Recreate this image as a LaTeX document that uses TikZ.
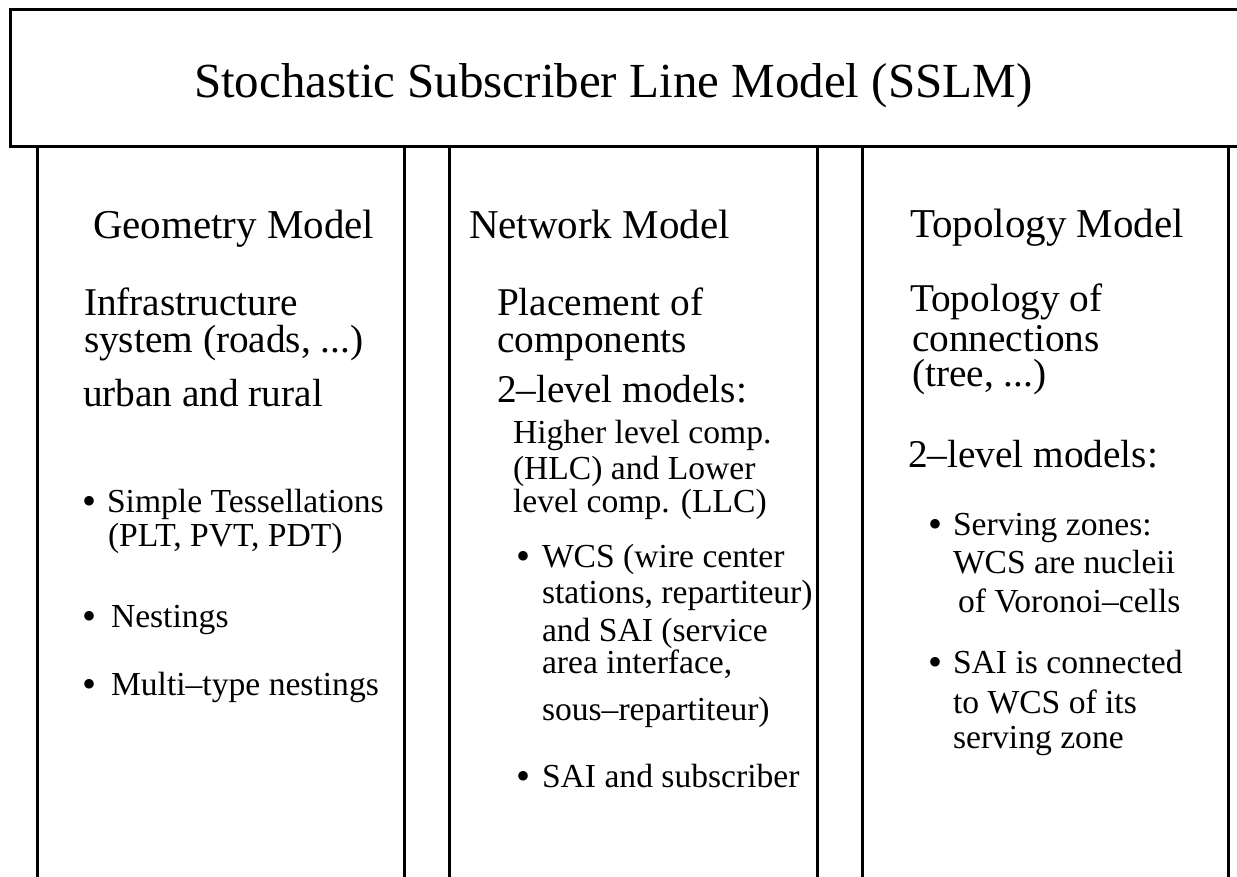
\documentclass[tikz,border=0pt]{standalone}
\usepackage{fontspec}
\setmainfont{Liberation Serif}
\begin{document}
\begin{tikzpicture}[x=1pt,y=-1pt,
  frame/.style={line width=3pt, line join=miter},
  txt/.style={anchor=base west, inner sep=0pt, outer sep=0pt},
  ttl/.style={txt, font=\fontsize{49}{49}\selectfont},
  hdr/.style={txt, font=\fontsize{41}{41}\selectfont},
  body/.style={txt, font=\fontsize{39.3}{39.3}\selectfont},
  small/.style={txt, font=\fontsize{33.6}{33.6}\selectfont},
  bul/.style={txt, font=\fontsize{40}{40}\selectfont, yshift=-2pt}]
\useasboundingbox (0,0) rectangle (1237,876);
% frames
\draw[frame] (10,9) rectangle (1260,146);
\draw[frame] (37,900) -- (37,146) (404,146) -- (404,900);
\draw[frame] (449,900) -- (449,146) (817,146) -- (817,900);
\draw[frame] (862,900) -- (862,146) (1228,146) -- (1228,900);
% title
\node[ttl] (title) at (194,97) {Stochastic Subscriber Line Model (SSLM)};
% geometry column
\node[hdr] (g0) at (93,238) {Geometry Model};
\node[body] (g1) at (84,315) {Infrastructure};
\node[body] (g2) at (84,352) {system (roads, ...)};
\node[body] (g3) at (83,406) {urban and rural};
\node[bul] (gb1) at (82,512) {\textbullet};
\node[small] (g4) at (107,512) {Simple Tessellations};
\node[small] (g5) at (108,546) {(PLT, PVT, PDT)};
\node[bul] (gb2) at (82,627) {\textbullet};
\node[small] (g6) at (111,627) {Nestings};
\node[bul] (gb3) at (82,695) {\textbullet};
\node[small] (g7) at (111,695) {Multi--type nestings};
% network column
\node[hdr] (n0) at (469,238) {Network Model};
\node[body] (n1) at (497,315) {Placement of};
\node[body] (n2) at (497,352) {components};
\node[body] (n3) at (497,402) {2--level models:};
\node[small] (n4) at (513,443) {Higher level comp.};
\node[small] (n5) at (513,479) {(HLC) and Lower};
\node[small] (n6) at (513,512) {level comp. (LLC)};
\node[bul] (nb1) at (516,567) {\textbullet};
\node[small] (n7) at (542,567) {WCS (wire center};
\node[small] (n8) at (542,603) {stations, repartiteur)};
\node[small] (n9) at (542,641) {and SAI (service};
\node[small] (n10) at (542,673) {area interface,};
\node[small] (n11) at (542,720) {sous--repartiteur)};
\node[bul] (nb2) at (516,787) {\textbullet};
\node[small] (n12) at (542,787) {SAI and subscriber};
% topology column
\node[hdr] (t0) at (910,237) {Topology Model};
\node[body] (t1) at (910,311) {Topology of};
\node[body] (t2) at (912,351) {connections};
\node[body] (t3) at (912,386) {(tree, ...)};
\node[body] (t4) at (908,467) {2--level models:};
\node[bul] (tb1) at (928,535) {\textbullet};
\node[small] (t5) at (953,535) {Serving zones:};
\node[small] (t6) at (953,573) {WCS are nucleii};
\node[small] (t7) at (958,612) {of Voronoi--cells};
\node[bul] (tb2) at (928,673) {\textbullet};
\node[small] (t8) at (953,673) {SAI is connected};
\node[small] (t9) at (953,713) {to WCS of its};
\node[small] (t10) at (953,748) {serving zone};
\end{tikzpicture}
\end{document}
